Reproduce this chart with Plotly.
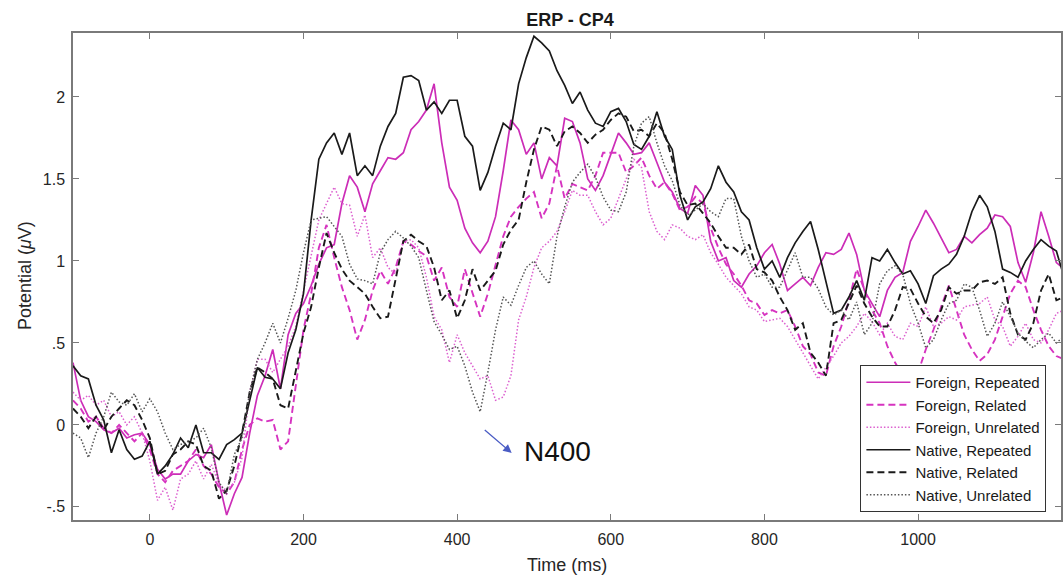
import plotly.graph_objects as go

# time base (ms), 10-ms samples
time_ms = list(range(-100, 1200, 10))

foreign_repeated = [
    0.38, 0.15, 0.05, 0.02, -0.03, -0.05, -0.02, -0.08, -0.06, -0.05,
    -0.12, -0.27, -0.33, -0.30, -0.30, -0.22, -0.18, -0.20, -0.12, -0.35,
    -0.55, -0.42, -0.32, -0.05, 0.18, 0.30, 0.46, 0.22, 0.55, 0.68,
    0.74, 0.85, 0.98, 1.08, 1.10, 1.35, 1.52, 1.45, 1.30, 1.47,
    1.55, 1.63, 1.62, 1.66, 1.80, 1.85, 1.92, 2.08, 1.72, 1.45,
    1.37, 1.20, 1.11, 1.05, 1.12, 1.27, 1.55, 1.86, 1.80, 1.65,
    1.72, 1.50, 1.63, 1.58, 1.87, 1.85, 1.72, 1.50, 1.43, 1.52,
    1.65, 1.78, 1.72, 1.65, 1.66, 1.72, 1.60, 1.48, 1.42, 1.32,
    1.29, 1.46, 1.40, 1.12, 1.00, 1.02, 0.88, 0.84, 0.92, 0.97,
    1.05, 1.10, 0.98, 0.82, 0.86, 0.90, 0.85, 0.96, 1.05, 1.04,
    1.07, 1.17, 1.04, 0.82, 0.74, 0.66, 0.82, 0.90, 0.93, 1.12,
    1.21, 1.31, 1.23, 1.14, 1.05, 1.07, 1.15, 1.11, 1.16, 1.20,
    1.28, 1.27, 1.21, 0.99, 0.87, 1.05, 1.30, 1.15, 0.99, 0.95,
]
foreign_related = [
    0.15, 0.10, 0.02, 0.05, -0.02, -0.05, 0.00, -0.05, -0.10, -0.05,
    -0.15, -0.30, -0.35, -0.28, -0.25, -0.22, -0.15, -0.25, -0.30, -0.38,
    -0.42, -0.35, -0.15, 0.00, 0.04, 0.02, 0.03, -0.15, -0.10, 0.25,
    0.58, 0.80, 1.08, 1.22, 1.02, 0.84, 0.70, 0.52, 0.64, 0.82,
    0.94, 0.86, 0.96, 1.12, 1.10, 1.06, 1.03, 0.88, 0.96, 0.78,
    0.72, 0.95, 0.80, 0.66, 0.80, 0.98, 1.15, 1.27, 1.33, 1.38,
    1.42, 1.26, 1.35, 1.58, 1.38, 1.47, 1.45, 1.43, 1.52, 1.66,
    1.66, 1.66, 1.54, 1.58, 1.63, 1.52, 1.44, 1.48, 1.41, 1.31,
    1.33, 1.39, 1.35, 1.20, 1.08, 0.98, 0.92, 0.85, 0.76, 0.74,
    0.67, 0.70, 0.68, 0.70, 0.60, 0.48, 0.43, 0.32, 0.30, 0.48,
    0.60, 0.76, 0.95, 0.83, 0.70, 0.62, 0.48, 0.38, 0.30, 0.28,
    0.32, 0.46, 0.58, 0.72, 0.85, 0.70, 0.55, 0.46, 0.39, 0.43,
    0.52, 0.66, 0.80, 0.88, 0.84, 0.70, 0.58, 0.48, 0.42, 0.40,
]
foreign_unrelated = [
    0.20, 0.15, 0.18, 0.12, 0.15, 0.05, 0.08, 0.00, 0.05, -0.05,
    -0.22, -0.46, -0.38, -0.52, -0.33, -0.30, -0.22, -0.33, -0.24, -0.36,
    -0.40, -0.35, -0.20, 0.20, 0.40, 0.40, 0.32, 0.40, 0.48, 0.60,
    0.82, 1.02, 1.25, 1.35, 1.45, 1.35, 1.34, 1.15, 1.28, 1.02,
    1.08, 0.96, 0.92, 1.12, 1.13, 1.08, 0.90, 0.66, 0.58, 0.38,
    0.55, 0.44, 0.36, 0.28, 0.30, 0.15, 0.17, 0.30, 0.64, 0.78,
    0.96, 1.08, 1.12, 1.18, 1.30, 1.43, 1.40, 1.40, 1.30, 1.22,
    1.26, 1.38, 1.50, 1.62, 1.57, 1.30, 1.18, 1.13, 1.22, 1.20,
    1.15, 1.13, 1.16, 1.05, 0.98, 0.90, 0.85, 0.80, 0.72, 0.70,
    0.63, 0.64, 0.65, 0.60, 0.52, 0.44, 0.36, 0.28, 0.35, 0.42,
    0.50, 0.54, 0.60, 0.68, 0.63, 0.55, 0.62, 0.54, 0.52, 0.62,
    0.60, 0.72, 0.60, 0.62, 0.66, 0.64, 0.72, 0.73, 0.74, 0.78,
    0.64, 0.60, 0.48, 0.54, 0.62, 0.52, 0.50, 0.58, 0.68, 0.70,
]
native_repeated = [
    0.36, 0.30, 0.28, 0.12, 0.03, -0.17, -0.03, -0.15, -0.21, -0.19,
    -0.10, -0.30, -0.25, -0.18, -0.08, -0.14, 0.00, -0.17, -0.17, -0.21,
    -0.12, -0.09, -0.05, 0.15, 0.35, 0.29, 0.28, 0.22, 0.44, 0.58,
    0.80, 1.25, 1.62, 1.72, 1.78, 1.65, 1.78, 1.52, 1.58, 1.52,
    1.70, 1.82, 1.90, 2.12, 2.13, 2.10, 1.92, 1.97, 1.90, 1.98,
    1.98, 1.76, 1.70, 1.43, 1.54, 1.70, 1.84, 1.80, 2.08, 2.24,
    2.37, 2.33, 2.28, 2.16, 2.07, 1.96, 2.03, 1.92, 1.84, 1.82,
    1.91, 1.93, 1.85, 1.71, 1.68, 1.76, 1.91, 1.76, 1.68, 1.40,
    1.25, 1.33, 1.36, 1.44, 1.58, 1.48, 1.42, 1.30, 1.25, 1.08,
    0.95, 1.00, 0.90, 1.02, 1.11, 1.18, 1.24, 1.07, 0.88, 0.68,
    0.70, 0.78, 0.88, 0.76, 1.02, 1.00, 1.07, 0.99, 0.92, 0.94,
    0.86, 0.74, 0.91, 0.95, 0.98, 1.04, 1.15, 1.30, 1.40, 1.33,
    1.18, 0.95, 0.93, 0.90, 1.00, 1.07, 1.13, 1.09, 1.06, 0.90,
]
native_related = [
    0.10, 0.05, -0.02, 0.05, -0.03, 0.05, 0.10, 0.15, 0.12, 0.03,
    -0.08, -0.30, -0.28, -0.18, -0.15, -0.10, -0.12, -0.25, -0.28, -0.45,
    -0.40, -0.25, -0.05, 0.20, 0.35, 0.32, 0.28, 0.12, 0.10, 0.32,
    0.56, 0.72, 0.96, 1.17, 1.05, 0.95, 0.88, 0.84, 0.80, 0.72,
    0.65, 0.66, 0.90, 1.12, 1.16, 1.12, 1.09, 0.96, 0.76, 0.82,
    0.65, 0.76, 0.95, 0.82, 0.88, 0.94, 1.10, 1.19, 1.25, 1.48,
    1.68, 1.82, 1.80, 1.70, 1.79, 1.82, 1.78, 1.72, 1.77, 1.80,
    1.86, 1.90, 1.88, 1.79, 1.80, 1.76, 1.84, 1.78, 1.62, 1.42,
    1.34, 1.35, 1.29, 1.23, 1.15, 1.08, 1.08, 1.04, 1.10, 0.95,
    0.93, 0.88, 0.78, 0.70, 0.58, 0.62, 0.44, 0.38, 0.30, 0.62,
    0.64, 0.75, 0.85, 0.74, 0.66, 0.60, 0.60, 0.70, 0.84, 0.83,
    0.74, 0.66, 0.62, 0.70, 0.84, 0.80, 0.82, 0.82, 0.87, 0.88,
    0.86, 0.90, 0.68, 0.55, 0.52, 0.62, 0.82, 0.92, 0.76, 0.78,
]
native_unrelated = [
    -0.05, -0.08, -0.20, -0.05, 0.05, 0.20, 0.14, 0.12, 0.19, 0.08,
    0.16, 0.08, -0.05, -0.15, -0.12, -0.10, -0.08, -0.02, -0.14, -0.35,
    -0.42, -0.18, -0.08, 0.20, 0.40, 0.50, 0.62, 0.50, 0.65, 0.82,
    1.05, 1.25, 1.26, 1.27, 1.21, 1.15, 0.98, 0.89, 0.88, 0.86,
    1.05, 1.13, 1.18, 1.14, 1.09, 1.02, 0.82, 0.63, 0.55, 0.46,
    0.48, 0.36, 0.20, 0.08, 0.32, 0.58, 0.78, 0.73, 0.85, 0.96,
    1.00, 0.92, 0.86, 1.15, 1.33, 1.48, 1.54, 1.59, 1.51, 1.39,
    1.31, 1.30, 1.42, 1.70, 1.84, 1.88, 1.72, 1.58, 1.49, 1.34,
    1.28, 1.31, 1.35, 1.30, 1.27, 1.38, 1.38, 1.15, 1.00, 0.90,
    0.92, 0.84, 0.84, 0.95, 1.05, 0.90, 0.90, 0.83, 0.72, 0.67,
    0.70, 0.64, 0.75, 0.55, 0.62, 0.86, 0.94, 0.97, 0.92, 0.74,
    0.62, 0.47, 0.52, 0.64, 0.74, 0.76, 0.86, 0.84, 0.70, 0.54,
    0.62, 0.75, 0.66, 0.56, 0.51, 0.47, 0.52, 0.56, 0.50, 0.54,
]

series_names = ["Foreign, Repeated", "Foreign, Related", "Foreign, Unrelated",
                "Native, Repeated", "Native, Related", "Native, Unrelated"]
series_values = [foreign_repeated, foreign_related, foreign_unrelated,
                 native_repeated, native_related, native_unrelated]

y_tickvals = [-0.5, 0, 0.5, 1, 1.5, 2]
y_ticktext = ["-.5", "0", ".5", "1", "1.5", "2"]
x_tickvals = [0, 200, 400, 600, 800, 1000]

styles = [
    dict(color="#cc2db7", width=1.7, dash="solid"),
    dict(color="#d633c0", width=1.9, dash="7px,4px"),
    dict(color="#dc60cf", width=1.5, dash="1.5px,2px"),
    dict(color="#1a1a1a", width=1.7, dash="solid"),
    dict(color="#1a1a1a", width=1.9, dash="7px,4px"),
    dict(color="#555555", width=1.5, dash="1.5px,2px"),
]

FONT = "Liberation Sans, Arial, Helvetica, sans-serif"

fig = go.Figure()
for name, vals, st in zip(series_names, series_values, styles):
    fig.add_trace(go.Scatter(x=time_ms, y=vals, mode="lines", name=name,
                             line=st))

W, H = 1064, 575
L, R, T, B = 73, 1, 33, 55
pw, ph = W - L - R, H - T - B

def px(x):
    return (x - L) / pw

def py(y):
    return 1 - (y - T) / ph

axis_common = dict(showline=True, linecolor="#7a7a7a", linewidth=1.5,
                   mirror="ticks", ticks="inside", ticklen=6, tickwidth=1,
                   tickcolor="#7a7a7a", showgrid=False, zeroline=False,
                   tickfont=dict(family=FONT, size=16, color="#262626"))

fig.update_layout(
    width=W, height=H,
    margin=dict(l=L, r=R, t=T, b=B),
    paper_bgcolor="white", plot_bgcolor="white",
    font=dict(family=FONT, color="#262626"),
    title=dict(text="<b>ERP - CP4</b>", x=px(571), xref="paper", xanchor="center",
               y=1 - 20 / H, yref="container", yanchor="middle",
               font=dict(family=FONT, size=18, color="#1a1a1a")),
    xaxis=dict(range=[-100, 1186], tickvals=x_tickvals,
               ticklabelstandoff=4, **axis_common),
    yaxis=dict(range=[-0.58, 2.39], tickvals=y_tickvals, ticktext=y_ticktext,
               ticklabelstandoff=3, **axis_common),
    showlegend=True,
    legend=dict(x=px(862), y=py(438.5), xanchor="left", yanchor="middle",
                bgcolor="white", bordercolor="#333333", borderwidth=1,
                font=dict(family=FONT, size=15, color="#1a1a1a"),
                itemwidth=44, tracegroupgap=0),
)

# axis titles
fig.add_annotation(text="Time (ms)", xref="paper", yref="paper",
                   x=px(568), y=py(565), xanchor="center", yanchor="middle",
                   showarrow=False,
                   font=dict(family=FONT, size=18, color="#262626"))
fig.add_annotation(text="Potential (<i>μ</i>V)", xref="paper", yref="paper",
                   x=px(25), y=py(276), xanchor="center", yanchor="middle",
                   textangle=-90, showarrow=False,
                   font=dict(family=FONT, size=18, color="#262626"))

# N400 label and arrow
fig.add_annotation(text="N400", x=531, y=-0.165, xref="x", yref="y",
                   showarrow=False,
                   font=dict(family=FONT, size=28, color="#111111"))
fig.add_annotation(text="", x=471, y=-0.171, ax=434, ay=-0.024,
                   xref="x", yref="y", axref="x", ayref="y",
                   showarrow=True, arrowhead=2, arrowsize=1.3,
                   arrowwidth=1.3, arrowcolor="#4a5cc4")

fig.write_html("out.html")
